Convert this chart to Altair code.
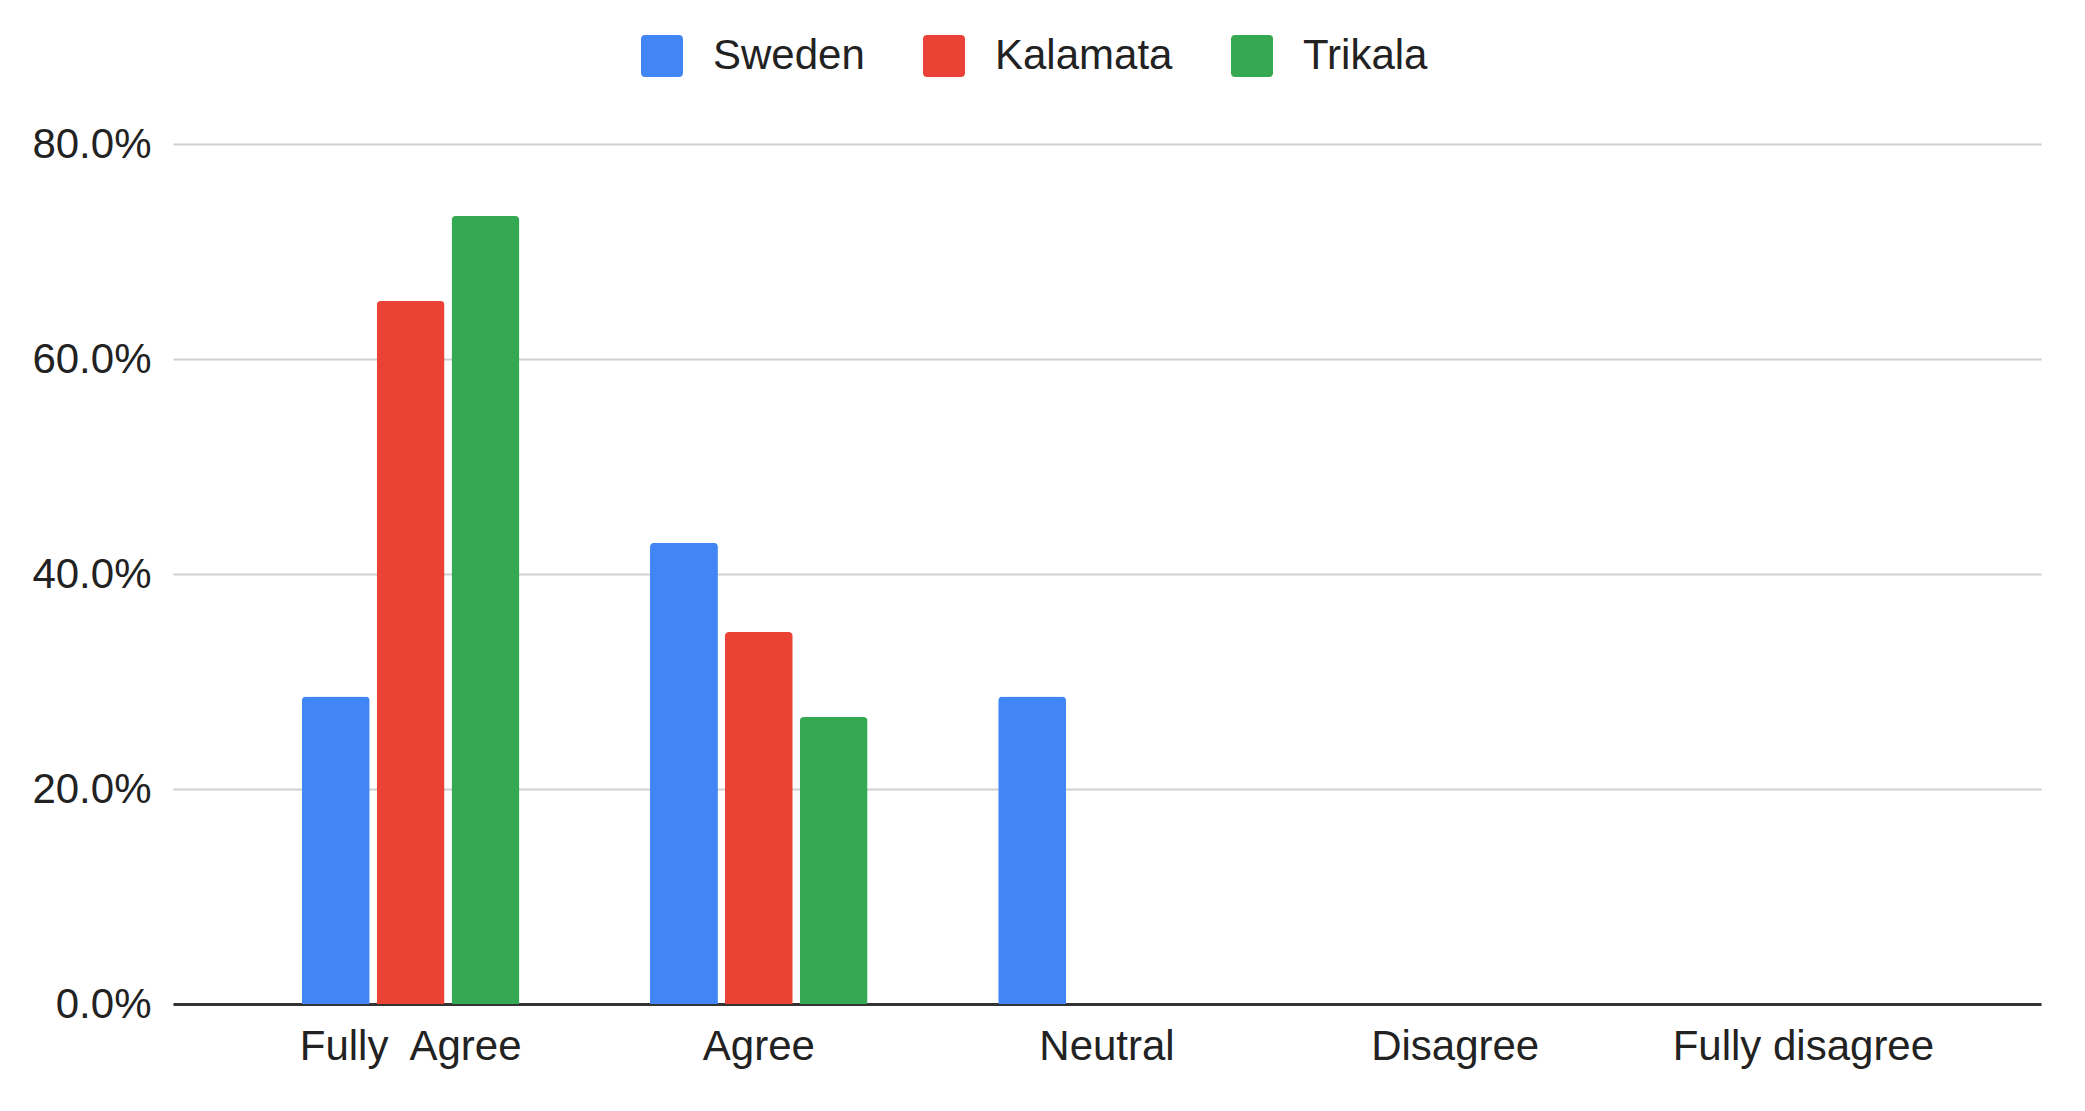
import altair as alt
import pandas as pd

categories = ["Fully\u00a0 Agree", "Agree", "Neutral", "Disagree", "Fully disagree"]
series = ["Sweden", "Kalamata", "Trikala"]
sweden = [0.286, 0.429, 0.286, 0.0, 0.0]
kalamata = [0.654, 0.346, 0.0, 0.0, 0.0]
trikala = [0.733, 0.267, 0.0, 0.0, 0.0]
colors = ["#4285F4", "#EA4335", "#34A853"]
y_ticks = [0.0, 0.2, 0.4, 0.6, 0.8]

rows = []
for name, vals in zip(series, [sweden, kalamata, trikala]):
    for c, v in zip(categories, vals):
        rows.append({"category": c, "series": name, "value": v})
df = pd.DataFrame(rows)

FONT = "Liberation Sans"
rounded = "M -0.8,-1 H 0.8 Q 1,-1 1,-0.8 V 0.8 Q 1,1 0.8,1 H -0.8 Q -1,1 -1,0.8 V -0.8 Q -1,-1 -0.8,-1 Z"

chart = alt.Chart(df).transform_filter(
    alt.datum.value > 0
).mark_bar(cornerRadiusTopLeft=4, cornerRadiusTopRight=4).encode(
    x=alt.X("category:N", sort=categories,
            scale=alt.Scale(domain=categories, paddingInner=0.375, paddingOuter=0.37),
            axis=alt.Axis(title=None, labelAngle=0, labelFontSize=42, labelFont=FONT,
                          labelColor="#222222", labelPadding=22, ticks=False, labelLimit=0,
                          domainColor="#333333", domainWidth=3, grid=False)),
    xOffset=alt.XOffset("series:N", sort=series,
                        scale=alt.Scale(domain=series, paddingInner=0.093, paddingOuter=0)),
    y=alt.Y("value:Q", scale=alt.Scale(domain=[0, 0.8], nice=False),
            axis=alt.Axis(title=None, format=".1%", values=y_ticks, labelFontSize=42,
                          labelFont=FONT, labelColor="#222222", labelPadding=22,
                          ticks=False, domain=False, gridColor="#d0d0d0", gridWidth=2)),
    color=alt.Color("series:N", sort=series,
                    scale=alt.Scale(domain=series, range=colors),
                    legend=alt.Legend(title=None, orient="none", direction="horizontal",
                                      legendX=468, legendY=-109, padding=0,
                                      symbolType=rounded, symbolSize=1764,
                                      symbolStrokeWidth=0, labelFontSize=42,
                                      labelFont=FONT, labelColor="#222222", labelLimit=0,
                                      labelOffset=30, columnPadding=58)),
).properties(
    width=1868, height=860,
    autosize=alt.AutoSizeParams(type="none"),
    padding={"left": 165, "top": 136, "right": 30, "bottom": 90},
).configure(background="white").configure_view(stroke=None)

chart.save("out.html", embed_options={"renderer": "svg", "actions": False})
